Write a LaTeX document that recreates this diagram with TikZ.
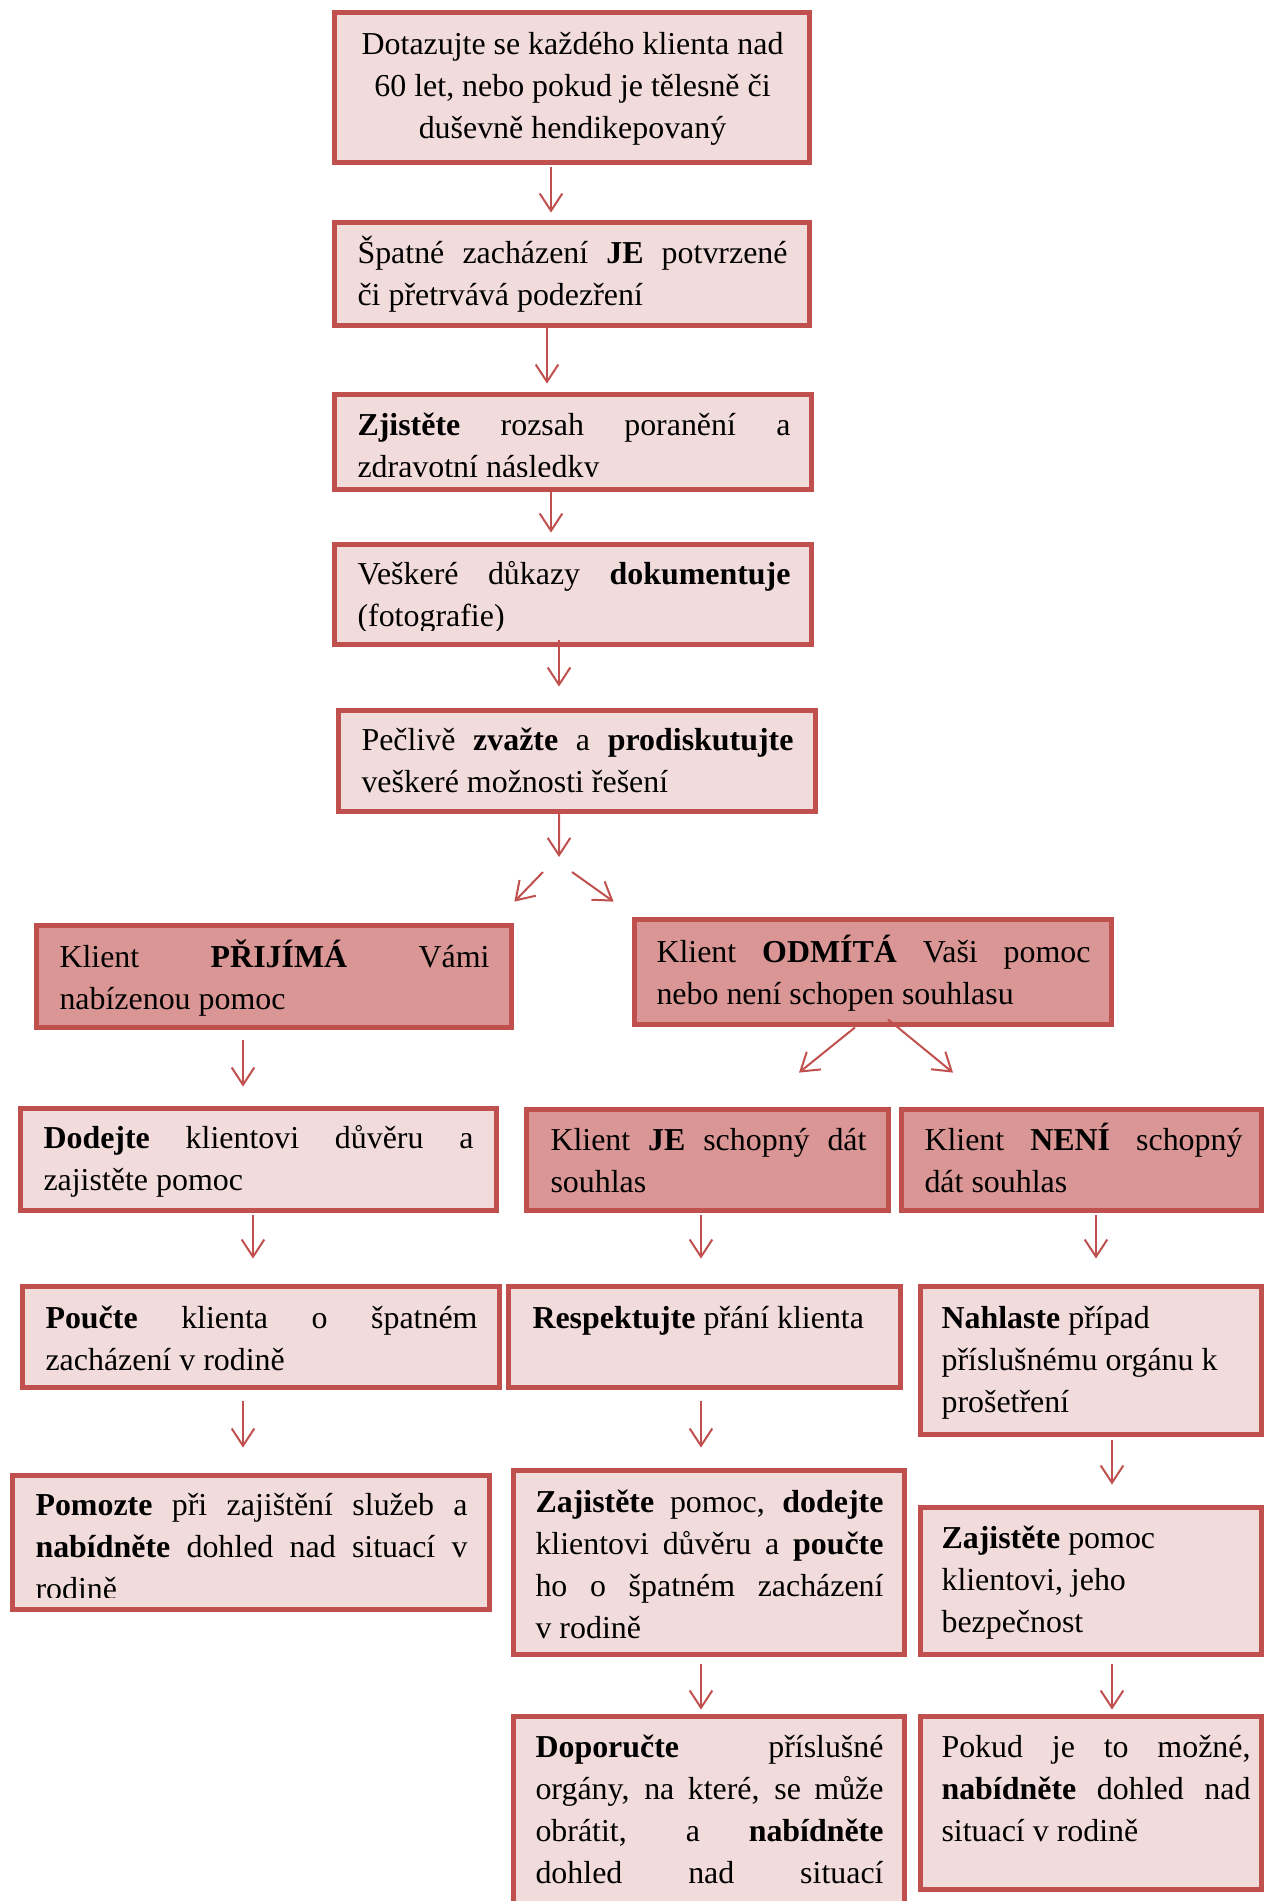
\documentclass[tikz,border=0pt]{standalone}
\usepackage{fontspec}
\setmainfont{Liberation Serif}
\usetikzlibrary{arrows.meta,fit}
\newdimen\pxu \pxu=0.376pt
\definecolor{bordr}{HTML}{C0504D}
\definecolor{lightf}{HTML}{F2DBDB}
\definecolor{darkf}{HTML}{D99694}
\newcommand\jline[1]{\makebox[\linewidth][s]{#1}}
\begin{document}
\begin{tikzpicture}[x=0.376pt,y=-0.376pt,
 lbox/.style={draw=bordr,line width=1.8pt,fill=lightf,inner sep=0pt},
 dbox/.style={lbox,fill=darkf},
 txt/.style={inner sep=0pt,anchor=base west,font=\fontsize{12}{15.8}\selectfont},
 arr/.style={draw=bordr,line width=0.75pt,-{Straight Barb[length=6.5pt,width=8.5pt]}}]
\useasboundingbox (0,0) rectangle (1264,1901);
\clip (0,0) rectangle (1264,1901);
% boxes
\node[lbox,fit={(334.2,12.2)(809.8,162.8)}] (b1) {};
\node[lbox,fit={(334.2,222.2)(809.8,325.8)}] (b2) {};
\node[lbox,fit={(334.2,394.2)(811.8,489.8)}] (b3) {};
\node[lbox,fit={(334.2,544.2)(811.8,644.8)}] (b4) {};
\node[lbox,fit={(338.2,710.2)(815.8,811.8)}] (b5) {};
\node[dbox,fit={(36.2,925.2)(511.8,1027.8)}] (b6) {};
\node[dbox,fit={(634.2,919.2)(1111.8,1024.8)}] (b7) {};
\node[lbox,fit={(20.2,1108.2)(496.8,1210.8)}] (b8) {};
\node[dbox,fit={(526.2,1109.2)(888.8,1210.8)}] (b9) {};
\node[dbox,fit={(901.2,1109.2)(1261.8,1210.8)}] (b10) {};
\node[lbox,fit={(22.2,1286.2)(499.8,1387.8)}] (b11) {};
\node[lbox,fit={(508.2,1286.2)(900.8,1387.8)}] (b12) {};
\node[lbox,fit={(920.2,1286.2)(1261.8,1434.8)}] (b13) {};
\node[lbox,fit={(12.2,1475.2)(489.8,1609.8)}] (b14) {};
\node[lbox,fit={(513.2,1470.2)(904.8,1654.8)}] (b15) {};
\node[lbox,fit={(920.2,1507.2)(1261.8,1654.8)}] (b16) {};
\node[lbox,fit={(513.2,1716.2)(904.8,1960)}] (b17) {};
\node[lbox,fit={(920.2,1716.2)(1261.8,1889.8)}] (b18) {};
% texts
\node[txt] (t1) at (357,54) {\parbox[t]{430\pxu}{\centering Dotazujte se každého klienta nad\\60 let, nebo pokud je tělesně či\\duševně hendikepovaný}};
\node[txt] (t2) at (357,263) {\parbox[t]{430\pxu}{\jline{Špatné zacházení \textbf{JE} potvrzené}\\či přetrvává podezření}};
\begin{scope}
\clip (336,396) rectangle (810,476.5);
\node[txt] (t3) at (357,435) {\parbox[t]{433\pxu}{\jline{\textbf{Zjistěte} rozsah poranění a}\\zdravotní následky}};
\end{scope}
\begin{scope}
\clip (336,546) rectangle (810,630);
\node[txt] (t4) at (357,584) {\parbox[t]{433\pxu}{\jline{Veškeré důkazy \textbf{dokumentuje}}\\(fotografie)}};
\end{scope}
\node[txt] (t5) at (361,750) {\parbox[t]{432\pxu}{\jline{Pečlivě \textbf{zvažte} a \textbf{prodiskutujte}}\\veškeré možnosti řešení}};
\node[txt] (t6) at (59,967) {\parbox[t]{430\pxu}{\jline{Klient \textbf{PŘIJÍMÁ} Vámi}\\nabízenou pomoc}};
\node[txt] (t7) at (656,962) {\parbox[t]{434\pxu}{\jline{Klient \textbf{ODMÍTÁ} Vaši pomoc}\\nebo není schopen souhlasu}};
\node[txt] (t8) at (43,1148) {\parbox[t]{430\pxu}{\jline{\textbf{Dodejte} klientovi důvěru a}\\zajistěte pomoc}};
\node[txt] (t9) at (550,1150) {\parbox[t]{316\pxu}{\jline{Klient \textbf{JE} schopný dát}\\souhlas}};
\node[txt] (t10) at (924,1150) {\parbox[t]{318\pxu}{\jline{Klient \textbf{NENÍ} schopný}\\dát souhlas}};
\node[txt] (t11) at (45,1328) {\parbox[t]{432\pxu}{\jline{\textbf{Poučte} klienta o špatném}\\zacházení v rodině}};
\node[txt] (t12) at (532,1328) {\textbf{Respektujte} přání klienta};
\node[txt] (t13) at (941,1328) {\parbox[t]{310\pxu}{\textbf{Nahlaste} případ\\příslušnému orgánu k\\prošetření}};
\begin{scope}
\clip (14,1477) rectangle (488,1597);
\node[txt] (t14) at (35,1515) {\parbox[t]{432\pxu}{\jline{\textbf{Pomozte} při zajištění služeb a}\\\jline{\textbf{nabídněte} dohled nad situací v}\\rodině}};
\end{scope}
\node[txt] (t15) at (535,1512) {\parbox[t]{348\pxu}{\jline{\textbf{Zajistěte} pomoc, \textbf{dodejte}}\\\jline{klientovi důvěru a \textbf{poučte}}\\\jline{ho o špatném zacházení}\\v rodině}};
\node[txt] (t16) at (941,1548) {\parbox[t]{310\pxu}{\textbf{Zajistěte} pomoc\\klientovi, jeho\\bezpečnost}};
\node[txt] (t17) at (535,1757) {\parbox[t]{348\pxu}{\jline{\textbf{Doporučte} příslušné}\\\jline{orgány, na které, se může}\\\jline{obrátit, a \textbf{nabídněte}}\\\jline{dohled nad situací}}};
\node[txt] (t18) at (941,1757) {\parbox[t]{309\pxu}{\jline{Pokud je to možné,}\\\jline{\textbf{nabídněte} dohled nad}\\situací v rodině}};
% connectors
\coordinate (split) at (559,857);
\draw[arr] ([shift={(-21,2.2)}]b1.south) -- ([shift={(-21,-7.2)}]b2.north);
\draw[arr] ([shift={(-25,-3.8)}]b2.south) -- ([shift={(-26,-8.2)}]b3.north);
\draw[arr] ([shift={(-22,-4.8)}]b3.south) -- ([shift={(-22,-9.2)}]b4.north);
\draw[arr] ([shift={(-14,-6.8)}]b4.south) -- ([shift={(-18,-21.2)}]b5.north);
\draw[arr] ([shift={(-18,-4.8)}]b5.south) -- (split);
\draw[arr] ([shift={(-16,15)}]split) -- ([shift={(0.2,-21.2)}]b6.north east);
\draw[arr] ([shift={(13,15)}]split) -- ([shift={(-18.2,-15.2)}]b7.north west);
\draw[arr] ([shift={(-31,10.2)}]b6.south) -- ([shift={(-15.5,-19.2)}]b8.north);
\draw[arr] ([shift={(-18,0.2)}]b7.south) -- ([shift={(91.5,-34.2)}]b9.north);
\draw[arr] ([shift={(15,-7.8)}]b7.south) -- ([shift={(-128.5,-34.2)}]b10.north);
\draw[arr] ([shift={(-5.5,2.2)}]b8.south) -- ([shift={(-8,-25.2)}]b11.north);
\draw[arr] ([shift={(-6.5,2.2)}]b9.south) -- ([shift={(-3.5,-25.2)}]b12.north);
\draw[arr] ([shift={(14.5,2.2)}]b10.south) -- ([shift={(5,-25.2)}]b13.north);
\draw[arr] ([shift={(-18,11.2)}]b11.south) -- ([shift={(-8,-25.2)}]b14.north);
\draw[arr] ([shift={(-3.5,11.2)}]b12.south) -- ([shift={(-8,-20.2)}]b15.north);
\draw[arr] ([shift={(21,3.2)}]b13.south) -- ([shift={(21,-20.2)}]b16.north);
\draw[arr] ([shift={(-8,7.2)}]b15.south) -- ([shift={(-8,-4.2)}]b17.north);
\draw[arr] ([shift={(21,7.2)}]b16.south) -- ([shift={(21,-4.2)}]b18.north);
\end{tikzpicture}
\end{document}
